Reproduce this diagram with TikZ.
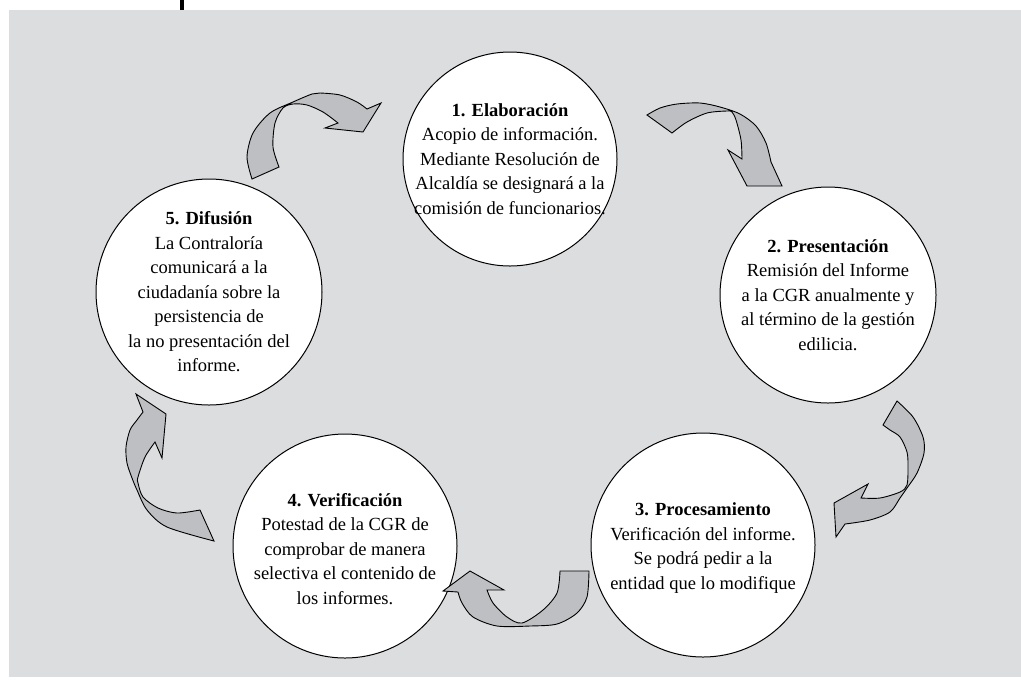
\documentclass[tikz,border=0pt]{standalone}
\usepackage{fontspec}
\setmainfont{Liberation Serif}
\usepackage{tkz-euclide}

\definecolor{fondo}{RGB}{220,221,223}
\definecolor{grisflecha}{RGB}{190,191,194}

\tikzset{
    circulo/.style={circle, draw=black, line width=0.5pt, fill=white, inner sep=0pt},
    texto/.style={align=center, inner sep=0pt, font=\fontsize{9.25}{12.25}\selectfont},
    flecha/.style={draw=black, line width=0.45pt, fill=grisflecha, line join=miter},
}

\begin{document}
\begin{tikzpicture}[x=0.5pt, y=-0.5pt]
    \useasboundingbox (0,0) rectangle (1021,682);
    \fill[fondo] (9,10) rectangle (1021,677);
    \fill[black] (180,0) rectangle (183.5,10); % filete superior
    \tkzDefPoints{510/159/O1,828/295/O2,703/545/O3,345/546/O4,209/292/O5}
    \node[circulo, minimum size=107pt] (c1) at (O1) {};
    \node[circulo, minimum size=108pt] (c2) at (O2) {};
    \node[circulo, minimum size=112pt] (c3) at (O3) {};
    \node[circulo, minimum size=112pt] (c4) at (O4) {};
    \node[circulo, minimum size=113pt] (c5) at (O5) {};
    \node[texto] (t1) at (c1) {\textbf{1. Elaboración}\\Acopio de información.\\Mediante Resolución de\\Alcaldía se designará a la\\comisión de funcionarios.};
    \node[texto] (t2) at (c2) {\textbf{2. Presentación}\\Remisión del Informe\\a la CGR anualmente y\\al término de la gestión\\edilicia.};
    \node[texto] (t3) at ([yshift=-1.5pt]c3) {\textbf{3. Procesamiento}\\Verificación del informe.\\Se podrá pedir a la\\entidad que lo modifique};
    \node[texto] (t4) at ([yshift=-1.5pt]c4) {\textbf{4. Verificación}\\Potestad de la CGR de\\comprobar de manera\\selectiva el contenido de\\los informes.};
    \node[texto] (t5) at (c5) {\textbf{5. Difusión}\\La Contraloría\\comunicará a la\\ciudadanía sobre la\\persistencia de\\la no presentación del\\informe.};
    % flechas curvas
    \draw[flecha] plot[smooth] coordinates {(252,179) (247,157) (253,133) (270,113) (293,102) (312,94) (320,93) (340,95) (357,102) (367,109)}
        -- (381,103) -- (363,132) -- (325,128) -- (338,123)
        -- plot[smooth] coordinates {(338,123) (323,112) (307,105) (293,104) (283,108) (275,123) (273,147) (279,167)} -- cycle; % 5 -> 1
    \draw[flecha] plot[smooth] coordinates {(647,115) (660,108) (677,104) (700,103) (720,107) (740,114) (756,126) (766,143) (771,162)}
        -- (782,186) -- (747,186) -- (728,150) -- (742,159)
        -- plot[smooth] coordinates {(742,159) (741,140) (736,120) (732,112) (727,111) (707,113) (687,122) (672,133)} -- cycle; % 1 -> 2
    \draw[flecha] plot[smooth] coordinates {(897,401) (913,417) (923,437) (924,453) (917,473) (907,488) (900,498) (890,512) (870,520) (845,524)}
        -- (836,537) -- (834,503) -- (868,484) -- (861,498)
        -- plot[smooth] coordinates {(861,498) (880,498) (900,492) (907,485) (908,467) (907,452) (900,437) (890,430) (883,425)} -- cycle; % 2 -> 3
    \draw[flecha] plot[smooth] coordinates {(589,571) (587,597) (577,613) (557,624) (530,626) (497,626) (473,617) (462,603) (458,592)}
        -- (443,591) -- (470,571) -- (504,590) -- (487,590)
        -- plot[smooth] coordinates {(487,590) (493,603) (507,617) (522,623) (543,610) (557,593) (560,571)} -- cycle; % 3 -> 4
    \draw[flecha] plot[smooth] coordinates {(214,541) (167,527) (147,510) (137,490) (132,478) (127,463) (126,447) (130,430) (137,420) (143,412)}
        -- (136,394) -- (166,414) -- (162,458) -- (155,442)
        -- plot[smooth] coordinates {(155,442) (145,457) (138,477) (138,483) (143,497) (158,508) (177,513) (200,510)} -- cycle; % 4 -> 5
\end{tikzpicture}
\end{document}
